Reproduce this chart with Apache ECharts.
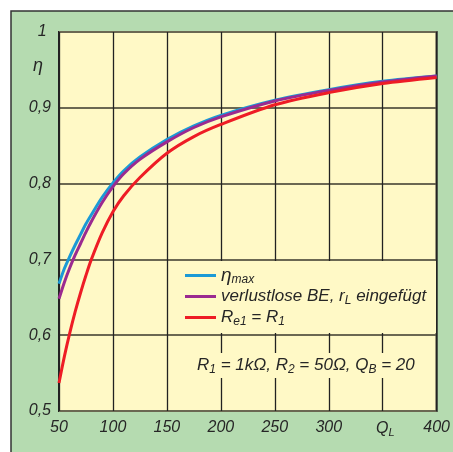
<!DOCTYPE html>
<html>
<head>
<meta charset="utf-8">
<script src="https://cdn.jsdelivr.net/npm/echarts@6/dist/echarts.min.js"></script>
<style>
  html, body { margin: 0; padding: 0; background: #fff; }
  #chart { width: 453px; height: 452px; }
</style>
</head>
<body>
<div id="chart"></div>
<script>
const qL = [50, 55, 60, 65, 70, 75, 80, 90, 100, 110, 125, 150, 175, 200, 250, 300, 350, 400]
const etaMax = [0.668, 0.688, 0.704, 0.719, 0.733, 0.747, 0.759, 0.782, 0.801, 0.817, 0.835, 0.858, 0.876, 0.890, 0.910, 0.924, 0.935, 0.942]
const verlustlos = [0.648, 0.670, 0.689, 0.706, 0.721, 0.736, 0.750, 0.775, 0.796, 0.813, 0.832, 0.855, 0.874, 0.888, 0.909, 0.923, 0.934, 0.942]
const re1 = [0.537, 0.572, 0.603, 0.631, 0.656, 0.679, 0.700, 0.735, 0.763, 0.784, 0.808, 0.840, 0.862, 0.878, 0.904, 0.920, 0.932, 0.940]

const seriesNames = ['ηmax', 'verlustlose BE, rL eingefügt', 'Re1 = R1']
const legendRich = {
  'ηmax': '{big|η}{sub|max}',
  'verlustlose BE, rL eingefügt': 'verlustlose BE, r{sub|L} eingefügt',
  'Re1 = R1': 'R{sub|e1} = R{sub|1}'
}
const colors = ['#1b9ad6', '#9b2a90', '#ee1c25']

const font = 'Liberation Sans'
const txt = '#262626'
const yellow = '#fff9c6'
const green = '#b5dbb0'

const toPairs = ys => qL.map((q, i) => [q, ys[i]])

const chart = echarts.init(document.getElementById('chart'), null, { renderer: 'canvas' })

chart.setOption({
  animation: false,
  backgroundColor: '#fff',
  grid: {
    left: 59, top: 32, right: 16, bottom: 41,
    show: true, backgroundColor: yellow, borderColor: '#222', borderWidth: 2
  },
  xAxis: {
    type: 'value', min: 50, max: 400, interval: 50,
    axisLine: { show: false }, axisTick: { show: false },
    axisLabel: {
      margin: 9, color: txt, fontFamily: font, fontStyle: 'italic', fontSize: 16,
      formatter: v => v === 350 ? '' : String(v)
    },
    splitLine: { lineStyle: { color: '#222', width: 1.3 } }
  },
  yAxis: {
    type: 'value', min: 0.5, max: 1, interval: 0.1,
    axisLine: { show: false }, axisTick: { show: false },
    axisLabel: {
      margin: 8, color: txt, fontFamily: font, fontStyle: 'italic', fontSize: 16,
      formatter: v => v >= 0.999 ? '1 ' : v.toFixed(1).replace('.', ',')
    },
    splitLine: { lineStyle: { color: '#6b6852', width: 2 } }
  },
  legend: {
    orient: 'vertical', left: 180, top: 261, itemGap: 2,
    icon: 'rect', itemWidth: 31, itemHeight: 3,
    data: seriesNames,
    formatter: name => legendRich[name],
    textStyle: {
      fontFamily: font, fontStyle: 'italic', fontSize: 17, color: txt,
      rich: {
        big: { fontFamily: font, fontStyle: 'italic', fontSize: 19, color: txt },
        sub: { fontFamily: font, fontStyle: 'italic', fontSize: 12, color: txt, padding: [9, 0, 0, 0] }
      }
    }
  },
  graphic: [
    {
      type: 'rect', z: -1, silent: true,
      shape: { x: 11, y: 11, width: 500, height: 500 },
      style: { fill: green, stroke: '#333', lineWidth: 1.5 }
    },
    {
      type: 'rect', z: 1, silent: true,
      shape: { x: 170, y: 261, width: 266, height: 72 },
      style: { fill: yellow }
    },
    {
      type: 'text', z: 3, left: 195, top: 353,
      style: {
        text: 'R{s|1} = 1kΩ, R{s|2} = 50Ω, Q{s|B} = 20',
        fill: txt, font: 'italic 17px "Liberation Sans"',
        backgroundColor: yellow, padding: [2, 2, 2, 2],
        rich: {
          s: { fontFamily: font, fontStyle: 'italic', fontSize: 12, fill: txt, padding: [9, 0, 0, 0] }
        }
      }
    },
    {
      type: 'text', z: 3, left: 33, top: 57,
      style: { text: 'η', fill: txt, font: 'italic 18px "Liberation Sans"' }
    },
    {
      type: 'text', z: 3, left: 376, top: 421,
      style: {
        text: 'Q{s|L}',
        fill: txt, font: 'italic 16px "Liberation Sans"',
        rich: {
          s: { fontFamily: font, fontStyle: 'italic', fontSize: 11, fill: txt, padding: [8, 0, 0, 0] }
        }
      }
    }
  ],
  series: [
    {
      name: seriesNames[0], type: 'line', data: toPairs(etaMax),
      smooth: 0.3, showSymbol: false,
      lineStyle: { color: colors[0], width: 3 }, itemStyle: { color: colors[0] }
    },
    {
      name: seriesNames[1], type: 'line', data: toPairs(verlustlos),
      smooth: 0.3, showSymbol: false,
      lineStyle: { color: colors[1], width: 3 }, itemStyle: { color: colors[1] }
    },
    {
      name: seriesNames[2], type: 'line', data: toPairs(re1),
      smooth: 0.3, showSymbol: false,
      lineStyle: { color: colors[2], width: 3 }, itemStyle: { color: colors[2] }
    }
  ]
})
</script>
</body>
</html>
